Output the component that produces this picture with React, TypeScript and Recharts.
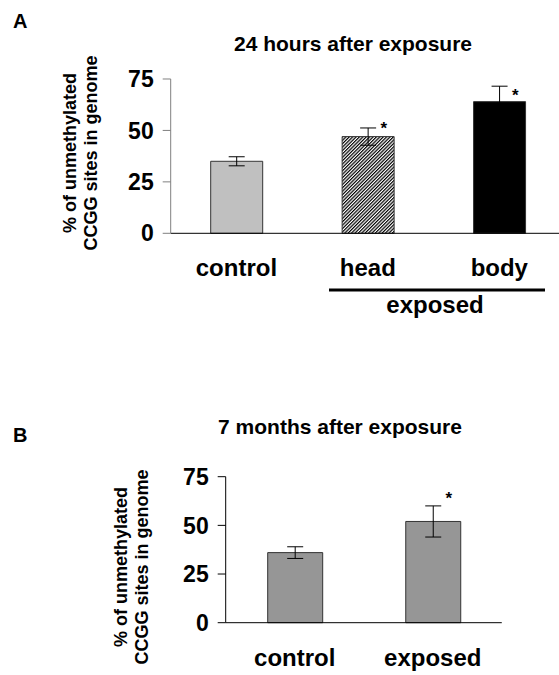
import { Bar, Cell, ComposedChart, ErrorBar, Line, XAxis, YAxis } from "recharts";

// panel A: 24 hours after exposure
const categoriesA = ["control", "head", "body"];
const valuesA = [35, 47, 64];
const errorsA = [2.2, 4.2, 7.5];
const starsA = [null, 52.5, 68.5];
const fillsA = ["#c0c0c0", "url(#hatch)", "#000000"];

// panel B: 7 months after exposure
const categoriesB = ["control", "exposed"];
const valuesB = [36, 52];
const errorsB = [3, 8];
const starsB = [null, 65.5];

const yTicks = [0, 25, 50, 75];

const dataA = categoriesA.map((name, i) => ({ name, value: valuesA[i], err: errorsA[i], star: starsA[i] }));
const dataB = categoriesB.map((name, i) => ({ name, value: valuesB[i], err: errorsB[i], star: starsB[i] }));

const font = '"Liberation Sans", Arial, sans-serif';
const tickStyle = { fontSize: 23, fontWeight: "bold", fill: "#000", fontFamily: font };
const catStyle = { fontSize: 24, fontWeight: "bold", fill: "#000", fontFamily: font };

function Star(props: any) {
  const { cx, cy, value, index } = props;
  if (value == null || cy == null || isNaN(cy)) return <g key={`s${index}`} />;
  return (
    <text key={`s${index}`} x={cx + 16} y={cy + 9} textAnchor="middle" fontSize={17} fontWeight="bold" fontFamily={font}>
      *
    </text>
  );
}

function Panel({ data, fills, width, height, left, right, top, yStroke, barSize }: any) {
  const n = data.length;
  const edges = Array.from({ length: n + 1 }, (_, i) => i);
  return (
    <ComposedChart width={width} height={height} data={data} margin={{ top, right, left, bottom: 0 }}>
      <XAxis xAxisId="cat" dataKey="name" tickLine={false} axisLine={false} tickSize={0} tickMargin={25} height={49} tick={catStyle} interval={0} />
      <XAxis xAxisId="axis" type="number" domain={[0, n]} ticks={edges} height={1} tick={false} tickSize={8} stroke="#000" allowDataOverflow />
      <YAxis domain={[0, 75]} ticks={yTicks} width={60} tickSize={8} tickMargin={9} stroke={yStroke} tick={tickStyle} interval={0} />
      <Bar xAxisId="cat" dataKey="value" barSize={barSize} stroke="#333" strokeWidth={1} isAnimationActive={false}>
        {data.map((d: any, i: number) => (
          <Cell key={d.name} fill={fills[i]} />
        ))}
        <ErrorBar dataKey="err" width={8} stroke="#000" strokeWidth={1} direction="y" />
      </Bar>
      <Line xAxisId="cat" dataKey="star" stroke="none" dot={Star} activeDot={false} legendType="none" isAnimationActive={false} />
    </ComposedChart>
  );
}

export default function App() {
  return (
    <div style={{ position: "absolute", left: 0, top: 0, width: 559, height: 675, overflow: "hidden", background: "#fff", fontFamily: font }}>
      <svg width={0} height={0} style={{ position: "absolute" }}>
        <defs>
          <pattern id="hatch" width={2.4} height={2.4} patternUnits="userSpaceOnUse" patternTransform="rotate(45)">
            <rect width={2.4} height={2.4} fill="#fff" />
            <line x1={0.6} y1={0} x2={0.6} y2={2.4} stroke="#000" strokeWidth={1.2} />
          </pattern>
        </defs>
      </svg>

      <div style={{ position: "absolute", left: 0, top: 0 }}>
        <Panel data={dataA} fills={fillsA} width={565} height={283.3} left={110.7} right={0} top={79} yStroke="#808080" barSize={52} />
      </div>
      <div style={{ position: "absolute", left: 0, top: 380 }}>
        <Panel data={dataB} fills={["#969696", "#969696"]} width={520} height={292.7} left={165.7} right={18.2} top={96.7} yStroke="#000" barSize={55} />
      </div>

      <svg width={559} height={675} style={{ position: "absolute", left: 0, top: 0, pointerEvents: "none" }} fontFamily={font} fontWeight="bold">
        <text x={13} y={28} fontSize={20}>A</text>
        <text x={353} y={51} fontSize={21} textAnchor="middle">24 hours after exposure</text>
        <text transform="translate(70,153) rotate(-90)" fontSize={18} textAnchor="middle" dominantBaseline="central">% of unmethylated</text>
        <text transform="translate(91,153) rotate(-90)" fontSize={18} textAnchor="middle" dominantBaseline="central">CCGG sites in genome</text>
        <line x1={329} y1={290} x2={545} y2={290} stroke="#000" strokeWidth={3} />
        <text x={435} y={313} fontSize={24} textAnchor="middle">exposed</text>

        <text x={13} y={442} fontSize={20}>B</text>
        <text x={340} y={434} fontSize={21} textAnchor="middle">7 months after exposure</text>
        <text transform="translate(121,567) rotate(-90)" fontSize={18} textAnchor="middle" dominantBaseline="central">% of unmethylated</text>
        <text transform="translate(142,567) rotate(-90)" fontSize={18} textAnchor="middle" dominantBaseline="central">CCGG sites in genome</text>
      </svg>
    </div>
  );
}
